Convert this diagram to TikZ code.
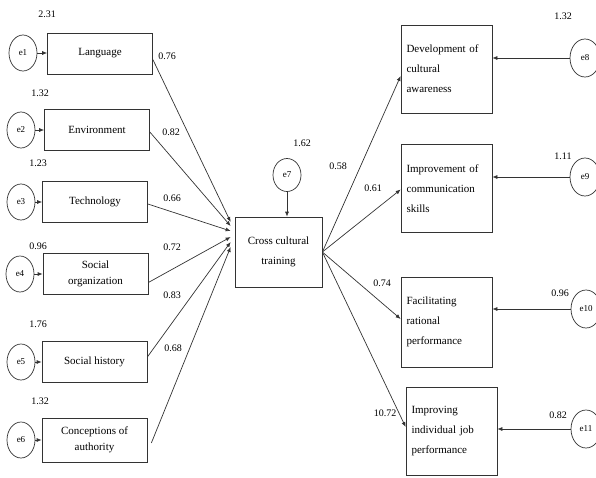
\documentclass[tikz,border=0pt]{standalone}
\usepackage{fontspec}
\setmainfont{Liberation Serif}
\usetikzlibrary{arrows.meta,shapes.geometric}

\begin{document}
\begin{tikzpicture}[x=1pt,y=-1pt,
    >={Latex[length=5pt,width=4pt]},
    line/.style={draw=black!80,line width=0.7pt},
    num/.style={font=\fontsize{10}{12}\selectfont},
    err/.style={ellipse,draw=black!80,line width=0.7pt,minimum width=28pt,minimum height=36pt,inner sep=0pt,font=\fontsize{9}{10}\selectfont},
    obs/.style={draw=black!80,line width=0.7pt,minimum width=105pt,minimum height=41pt,inner sep=1pt,align=center,font=\fontsize{11}{16}\selectfont},
    outc/.style={draw=black!80,line width=0.7pt,minimum width=91pt,minimum height=88pt,inner xsep=5.5pt,text width=80pt,align=left,font=\fontsize{11}{20}\selectfont}]
    \useasboundingbox (0,0) rectangle (596,477);
    % indicators
    \node[obs] (lang) at (100,53.5) {Language};
    \node[obs] (env) at (97,130) {Environment};
    \node[obs] (tech) at (95,202) {Technology};
    \node[obs] (socorg) at (95.5,273.5) {Social\\organization};
    \node[obs] (sochist) at (94.5,362) {Social history};
    \node[obs,minimum height=44pt] (concept) at (94.5,440) {Conceptions of\\authority};
    % errors left
    \node[err] (e1) at (23,53) {e1};
    \node[err] (e2) at (21,130) {e2};
    \node[err] (e3) at (21,202) {e3};
    \node[err] (e4) at (20,274) {e4};
    \node[err] (e5) at (21,362) {e5};
    \node[err] (e6) at (21,440) {e6};
    \foreach \e/\b in {e1/lang,e2/env,e3/tech,e4/socorg,e5/sochist,e6/concept}
        \draw[line,->] (\e) -- (\e -| \b.west);
    \node[num] at (47,14) {2.31};
    \node[num] at (40,93) {1.32};
    \node[num] at (38,163) {1.23};
    \node[num] at (38,246) {0.96};
    \node[num] at (38,324) {1.76};
    \node[num] at (40,401) {1.32};
    % cross cultural training
    \node[draw=black!80,line width=0.7pt,minimum width=87pt,minimum height=70pt,align=center,font=\fontsize{11}{20}\selectfont] (cct) at (278.5,252) {Cross cultural\\training};
    \node[err,minimum height=33pt] (e7) at (287,175) {e7};
    \draw[line,->] (e7) -- (e7 |- cct.north);
    \node[num] at (302,143) {1.62};
    % paths in
    \draw[line,->] ([yshift=-6pt]lang.east) -- ([xshift=-4pt,yshift=30pt]cct.west);
    \draw[line,->] ([yshift=-2pt]env.east) -- ([xshift=-4pt,yshift=26pt]cct.west);
    \draw[line,->] ([yshift=-2pt]tech.east) -- ([xshift=-4pt,yshift=21pt]cct.west);
    \draw[line,->] ([yshift=-9pt]socorg.east) -- ([xshift=-4pt,yshift=15pt]cct.west);
    \draw[line,->] ([yshift=5pt]sochist.east) -- ([xshift=-4pt,yshift=10pt]cct.west);
    \draw[line,->] ([xshift=4pt,yshift=-3pt]concept.east) -- ([xshift=-4pt,yshift=5pt]cct.west);
    \node[num] at (167,56) {0.76};
    \node[num] at (171,132) {0.82};
    \node[num] at (172,198) {0.66};
    \node[num] at (172,247) {0.72};
    \node[num] at (172,295) {0.83};
    \node[num] at (173,348) {0.68};
    % outcomes
    \node[outc] (dev) at (446.5,69) {Development of\\cultural\\awareness};
    \node[outc] (comm) at (446.5,188.5) {Improvement of\\communication\\skills};
    \node[outc,minimum height=90pt] (fac) at (446.5,322) {Facilitating\\rational\\performance};
    \node[outc] (job) at (451.5,431) {Improving\\individual job\\performance};
    % paths out
    \draw[line,->] (cct.east) -- ([yshift=-7pt]dev.west);
    \draw[line,->] (cct.east) -- ([yshift=-1pt]comm.west);
    \draw[line,->] (cct.east) -- ([yshift=3pt]fac.west);
    \draw[line,->] (cct.east) -- ([yshift=4pt]job.west);
    \node[num] at (338,166) {0.58};
    \node[num] at (373,188) {0.61};
    \node[num] at (382,283) {0.74};
    \node[num] at (385,413) {10.72};
    % errors right
    \node[err,minimum width=30pt,minimum height=38pt] (e8) at (585,58) {e8};
    \node[err,minimum width=30pt,minimum height=38pt] (e9) at (585,177) {e9};
    \node[err,minimum width=30pt,minimum height=38pt] (e10) at (586,309) {e10};
    \node[err,minimum width=30pt,minimum height=38pt] (e11) at (586,429) {e11};
    \foreach \e/\b in {e8/dev,e9/comm,e10/fac,e11/job}
        \draw[line,->] (\e) -- (\e -| \b.east);
    \node[num] at (563,16) {1.32};
    \node[num] at (563,156) {1.11};
    \node[num] at (560,293) {0.96};
    \node[num] at (558,415) {0.82};
\end{tikzpicture}
\end{document}
